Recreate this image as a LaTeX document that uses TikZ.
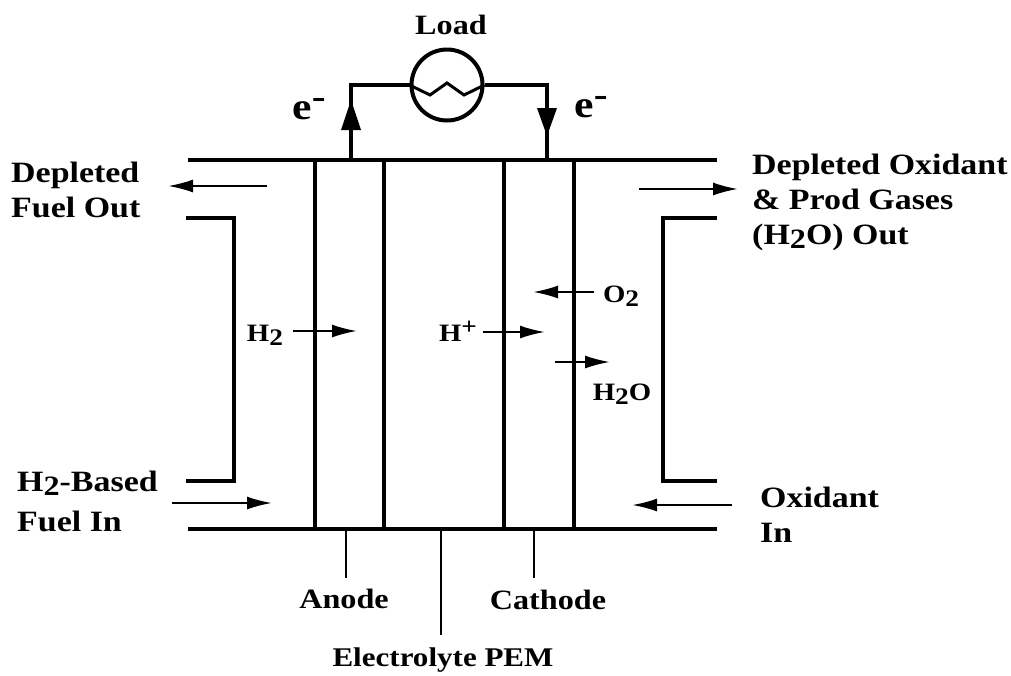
\documentclass[tikz,border=0pt]{standalone}
\usepackage{xcolor}
\usepackage{fontspec}
\setmainfont[FakeStretch=1.15]{Liberation Serif}
\usetikzlibrary{arrows.meta}
\newcommand{\lowtxt}[1]{\raisebox{-0.35ex}{\scalebox{.95}{#1}}}
\newcommand{\hightxt}[1]{\raisebox{0.6ex}{\scalebox{.95}{#1}}}
\tikzset{
  plate/.style={line width=3.6pt},
  wall/.style={line width=3.4pt},
  wire/.style={line width=4pt},
  flow/.style={line width=2.2pt,-{Latex[length=25pt,width=13pt]}},
  pointer/.style={line width=1.8pt},
  lbl/.style={font=\fontsize{29.5}{35}\selectfont\bfseries,align=left,inner sep=0pt},
  tag/.style={font=\fontsize{28}{32}\selectfont\bfseries,inner sep=0pt},
  gas/.style={font=\fontsize{25}{30}\selectfont\bfseries,inner sep=0pt},
  elec/.style={font=\fontsize{38}{38}\selectfont\bfseries,inner sep=0pt}
}
\begin{document}
\begin{tikzpicture}[x=1pt,y=-1pt]
    \useasboundingbox (0,0) rectangle (1011,675);

    % Paso 1: Placas y paredes de la celda
    \draw[plate] (188,160) -- (717,160);
    \draw[plate] (188,529) -- (717,529);
    \foreach \x in {315,384,504,574}
        \draw[wall] (\x,160) -- (\x,529);

    % Paso 2: Canales de entrada y salida
    \draw[wall] (186,218) -- (234,218) -- (234,481) -- (186,481);
    \draw[wall] (717,218) -- (663,218) -- (663,481) -- (717,481);

    % Paso 3: Circuito externo y carga
    \node[draw,circle,wire,minimum size=71pt,inner sep=0pt] (load) at (447,85) {};
    \coordinate (anodeTap) at (351,160);
    \coordinate (cathodeTap) at (547,160);
    \draw[wire] (anodeTap) -- (351,85) -- (load.west);
    \draw[wire] (load.east) -- (547,85) -- (cathodeTap);
    \draw[line width=3pt] (load.west) -- (430,95) -- (447,83) -- (464,95) -- (load.east);
    \fill (351,100) -- (361,130) -- (341,130) -- cycle;
    \fill (547,136) -- (557,108) -- (537,108) -- cycle;

    % Paso 4: Flechas de gases e iones
    \draw[flow] (267,186) -- (168,186);
    \draw[flow] (639,189) -- (738,189);
    \draw[flow] (172,503) -- (272,503);
    \draw[flow] (732,505) -- (632,505);
    \draw[flow] (293,331) -- (357,331);
    \draw[flow] (483,332) -- (545,332);
    \draw[flow] (594,292) -- (533,292);
    \draw[flow] (555,362) -- (610,362);

    % Paso 5: Lineas de referencia
    \coordinate (anodeFoot) at (346,529);
    \coordinate (pemFoot) at (441,529);
    \coordinate (cathodeFoot) at (534,529);
    \node[tag] (anode) at (344,599) {Anode};
    \node[tag,font=\fontsize{27}{32}\selectfont\bfseries] (pem) at (443,660) {Electrolyte PEM};
    \node[tag] (cathode) at (548,600) {Cathode};
    \draw[pointer] (anodeFoot) -- (346,578);
    \draw[pointer] (pemFoot) -- (441,635);
    \draw[pointer] (cathodeFoot) -- (534,578);

    % Paso 6: Textos
    \node[tag] (loadText) at (451,25) {Load};
    \node[elec] (eLeft) at (309,109) {e\hightxt{-}};
    \node[elec] (eRight) at (591,107) {e\hightxt{-}};
    \node[lbl,anchor=west] (fuelOut) at (11,190) {Depleted\\Fuel Out};
    \node[lbl,anchor=west] (oxOut) at (752,202) {Depleted Oxidant\\\& Prod Gases\\(H\lowtxt{2}O) Out};
    \node[lbl,anchor=west] (fuelIn) at (17,501) {H\lowtxt{2}-Based\\[5pt]Fuel In};
    \node[lbl,anchor=west] (oxIn) at (760,515) {Oxidant\\In};
    \node[gas] (hTwo) at (265,335) {H\lowtxt{2}};
    \node[gas] (hPlus) at (458,331) {H\hightxt{+}};
    \node[gas] (oTwo) at (621,296) {O\lowtxt{2}};
    \node[gas] (water) at (622,394) {H\lowtxt{2}O};
\end{tikzpicture}
\end{document}
